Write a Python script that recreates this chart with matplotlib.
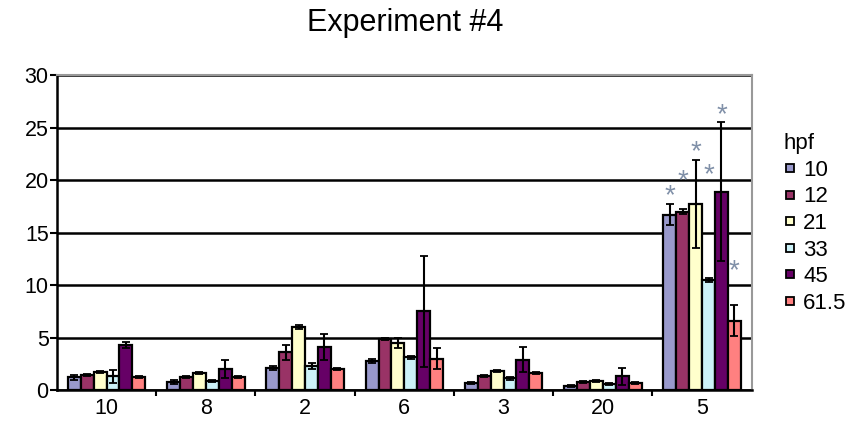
import numpy as np
from matplotlib import pyplot as plt
from matplotlib.lines import Line2D

plt.rcParams['font.family'] = ['Liberation Sans', 'DejaVu Sans']

# data
groups = ["10", "8", "2", "6", "3", "20", "5"]
hpf = ["10", "12", "21", "33", "45", "61.5"]
colors = ["#9999cc", "#993366", "#ffffcc", "#ccf2f8", "#660066", "#ff8080"]

h10 = [1.2, 0.8, 2.1, 2.8, 0.7, 0.4, 16.7]
h12 = [1.4, 1.2, 3.6, 4.9, 1.3, 0.8, 17.0]
h21 = [1.7, 1.6, 6.0, 4.5, 1.8, 0.9, 17.7]
h33 = [1.3, 0.9, 2.3, 3.1, 1.1, 0.6, 10.5]
h45 = [4.3, 2.0, 4.1, 7.5, 2.9, 1.3, 18.9]
h61 = [1.2, 1.2, 2.0, 3.0, 1.6, 0.7, 6.6]

e10 = [0.2, 0.2, 0.2, 0.2, 0.1, 0.1, 1.0]
e12 = [0.1, 0.1, 0.7, 0.1, 0.1, 0.1, 0.2]
e21 = [0.1, 0.1, 0.2, 0.5, 0.1, 0.1, 4.2]
e33 = [0.6, 0.1, 0.3, 0.1, 0.1, 0.1, 0.2]
e45 = [0.3, 0.9, 1.2, 5.3, 1.2, 0.8, 6.6]
e61 = [0.1, 0.1, 0.1, 1.0, 0.1, 0.1, 1.5]

star_y = [18.5, 19.9, 22.7, 20.5, 26.2, 11.3]  # asterisks over group "5"

heights = [h10, h12, h21, h33, h45, h61]
errs = [e10, e12, e21, e33, e45, e61]

fig = plt.figure(figsize=(8.67, 4.29), dpi=100)
ax = fig.add_axes([0.0657, 0.0909, 0.8013, 0.734])

x = np.arange(len(groups))
w = 0.13
for i in range(6):
    pos = x + (i - 2.5) * w
    ax.bar(pos, heights[i], w, color=colors[i], edgecolor="black", linewidth=1.6, zorder=3)
    ax.errorbar(pos, heights[i], yerr=errs[i], fmt="none", ecolor="black",
                elinewidth=1.5, capsize=3, capthick=1.3, zorder=4)
    ax.text(x[-1] + (i - 2.5) * w, star_y[i], "*", ha="center", va="center",
            fontsize=20, color="#8090a8", zorder=5)

ax.set_xlim(-0.5, len(groups) - 0.5)
ax.set_ylim(0, 30)
ax.set_yticks(range(0, 31, 5))
ax.yaxis.grid(True, color="black", linewidth=1.8, zorder=0)
ax.set_xticks(x)
ax.set_xticklabels(groups)
ax.set_xticks(np.arange(0.5, len(groups) - 0.5, 1), minor=True)
ax.tick_params(axis="x", which="major", length=0, labelsize=15.5, pad=6)
ax.tick_params(axis="x", which="minor", length=4, width=1.5, direction="out")
ax.tick_params(axis="y", length=5, width=1.5, labelsize=15.5, pad=1)

for s in ["left", "bottom"]:
    ax.spines[s].set_linewidth(1.8)
for s in ["top", "right"]:
    ax.spines[s].set_color("#999999")
    ax.spines[s].set_linewidth(1.5)

fig.text(0.467, 0.947, "Experiment #4", ha="center", va="center", fontsize=22)

handles = [Line2D([], [], marker="s", linestyle="none", markersize=6,
                  markerfacecolor=c, markeredgecolor="black", markeredgewidth=1.3)
           for c in colors]
leg = fig.legend(handles, hpf, title="hpf", loc="upper left",
                 bbox_to_anchor=(0.893, 0.71), frameon=False, fontsize=16,
                 title_fontsize=16, handlelength=0.6, handletextpad=0.3,
                 labelspacing=0.25, borderaxespad=0)
leg._legend_box.align = "left"

fig.savefig("out.png", dpi=100)
